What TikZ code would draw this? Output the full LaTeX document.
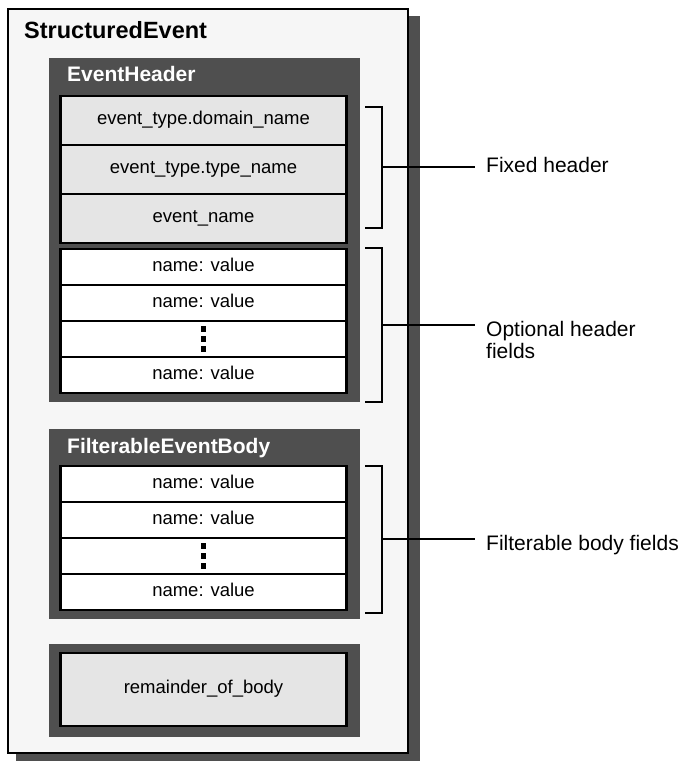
\documentclass[tikz,border=0pt]{standalone}
\usepackage{fontspec}
\setmainfont{Liberation Sans}
\definecolor{boxdark}{HTML}{4F4F4F}
\definecolor{paper}{HTML}{F6F6F6}
\definecolor{fixgray}{HTML}{E5E5E5}
\begin{document}
\begin{tikzpicture}[x=1pt,y=-1pt,
  darkbox/.style={fill=boxdark, draw=none, inner sep=0pt},
  row/.style={draw=black, line width=2.2pt, minimum width=286pt, inner sep=0pt,
    text height=0.87em, text depth=0pt, font=\fontsize{18.5}{22}\selectfont},
  fixrow/.style={row, fill=fixgray, minimum height=49pt},
  optrow/.style={row, fill=white, minimum height=36pt},
  boxtitle/.style={anchor=base west, inner sep=0pt, text=white, font=\fontsize{21}{25}\selectfont\bfseries},
  dotsq/.style={fill=black, draw=none, minimum width=5pt, minimum height=6pt, inner sep=0pt},
  brk/.style={draw=black, line width=2pt},
  lab/.style={anchor=base west, inner xsep=11pt, inner ysep=0pt, align=left, font=\fontsize{21}{22}\selectfont}]
\useasboundingbox (0,0) rectangle (684,761);
% shadow and outer box
\node[darkbox, minimum width=404pt, minimum height=745pt] (shadow) at (218,388.5) {};
\node[fill=paper, draw=black, line width=2.5pt, minimum width=400pt, minimum height=744pt, inner sep=0pt] (se) at (208,381) {};
\node[anchor=base west, inner sep=0pt, font=\fontsize{23.5}{28}\selectfont\bfseries] (setitle) at (24,38) {StructuredEvent};
% EventHeader
\node[darkbox, minimum width=311pt, minimum height=344pt] (eh) at (204.5,230) {};
\node[boxtitle] (ehtitle) at (67,81) {EventHeader};
\node[fixrow] (f1) at (203.5,120.5) {event\_type.domain\_name};
\node[fixrow] (f2) at (203.5,169.5) {event\_type.type\_name};
\node[fixrow] (f3) at (203.5,218.5) {event\_name};
\node[optrow] (o1) at (203.5,267) {name: value};
\node[optrow] (o2) at (203.5,303) {name: value};
\node[optrow] (o3) at (203.5,339) {};
\node[optrow] (o4) at (203.5,375) {name: value};
\foreach \d in {-10,0,10} \node[dotsq] at ([yshift=\d pt]o3.center) {};
% FilterableEventBody
\node[darkbox, minimum width=311pt, minimum height=190pt] (fb) at (204.5,524) {};
\node[boxtitle] (fbtitle) at (67,453) {FilterableEventBody};
\node[optrow] (b1) at (203.5,484) {name: value};
\node[optrow] (b2) at (203.5,520) {name: value};
\node[optrow] (b3) at (203.5,556) {};
\node[optrow] (b4) at (203.5,592) {name: value};
\foreach \d in {-10,0,10} \node[dotsq] at ([yshift=\d pt]b3.center) {};
% remainder
\node[darkbox, minimum width=311pt, minimum height=93pt] (rb) at (204.5,690.5) {};
\node[row, fill=fixgray, minimum height=73pt] (rem) at (203.5,689.5) {remainder\_of\_body};
% brackets
\draw[brk] (365,107) -- (382,107) -- (382,228) -- (365,228);
\coordinate (fixm) at (382,167);
\draw[brk] (365,248) -- (382,248) -- (382,402) -- (365,402);
\coordinate (optm) at (382,325);
\draw[brk] (365,466) -- (382,466) -- (382,613) -- (365,613);
\coordinate (film) at (382,539);
% labels
\node[lab] (fixlab) at (475,172) {Fixed header};
\node[lab] (optlab) at (475,358) {Optional header\\fields};
\node[lab] (fillab) at (475,550) {Filterable body fields};
\draw[brk] (fixm) -- (fixm -| fixlab.west);
\draw[brk] (optm) -- (optm -| optlab.west);
\draw[brk] (film) -- (film -| fillab.west);
\end{tikzpicture}
\end{document}
